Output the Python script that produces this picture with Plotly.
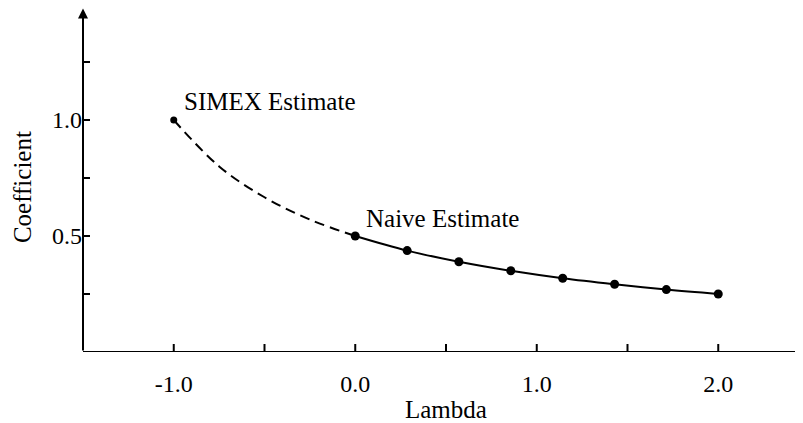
import plotly.graph_objects as go

# Data
lam_naive = [0.0, 0.286, 0.571, 0.857, 1.143, 1.429, 1.714, 2.0]
coef_naive = [0.50, 0.437, 0.389, 0.350, 0.318, 0.292, 0.269, 0.250]
lam_extrap = [-1.0, -0.75, -0.5, -0.25, 0.0]
coef_extrap = [1.0, 0.80, 0.667, 0.571, 0.50]
simex_lam = [-1.0]
simex_coef = [1.0]
x_tick_marks = [-1.0, -0.5, 0.0, 0.5, 1.0, 1.5, 2.0]
x_tick_labels = {-1.0: "-1.0", 0.0: "0.0", 1.0: "1.0", 2.0: "2.0"}
y_tick_marks = [0.25, 0.5, 0.75, 1.0, 1.25]
y_tick_labels = {0.5: "0.5", 1.0: "1.0"}

FONT = "Liberation Serif, Times New Roman, serif"
FS = 25
FS_TICK = 24
X0 = -1.5
XMAX = X0 + 720 / 181.5
YMAX = 344 / 232

fig = go.Figure()
fig.add_trace(go.Scatter(x=lam_extrap, y=coef_extrap, mode="lines",
                         line=dict(color="black", width=2, dash="10px,6px", shape="spline"),
                         hoverinfo="skip", showlegend=False))
fig.add_trace(go.Scatter(x=lam_naive, y=coef_naive, mode="lines+markers",
                         line=dict(color="black", width=2, shape="spline"),
                         marker=dict(color="black", size=9),
                         showlegend=False))
fig.add_trace(go.Scatter(x=simex_lam, y=simex_coef, mode="markers",
                         marker=dict(color="black", size=7), showlegend=False))

shapes = [dict(type="line", xref="x", yref="y", x0=X0, x1=XMAX, y0=0, y1=0,
               line=dict(color="black", width=2))]
for v in x_tick_marks:
    shapes.append(dict(type="line", xref="x", yref="y", ysizemode="pixel", yanchor=0,
                       x0=v, x1=v, y0=-8, y1=8, line=dict(color="black", width=2)))
for v in y_tick_marks:
    shapes.append(dict(type="line", xref="x", yref="y", xsizemode="pixel", xanchor=X0,
                       x0=-7, x1=7, y0=v, y1=v, line=dict(color="black", width=2)))

annotations = [
    dict(x=X0, y=1.481, ax=X0, ay=0, xref="x", yref="y", axref="x", ayref="y",
         showarrow=True, arrowhead=2, arrowsize=1, arrowwidth=2, arrowcolor="black", text=""),
    dict(x=-0.956, y=1.08, xref="x", yref="y", text="SIMEX Estimate", showarrow=False,
         xanchor="left", yanchor="middle", font=dict(family=FONT, size=FS, color="black")),
    dict(x=0.048, y=0.576, xref="x", yref="y", text="Naive Estimate", showarrow=False,
         xanchor="left", yanchor="middle", font=dict(family=FONT, size=FS, color="black")),
    dict(x=0.504, y=-0.166, xref="paper", yref="paper", text="Lambda", showarrow=False,
         xanchor="center", yanchor="middle", font=dict(family=FONT, size=FS, color="black")),
    dict(x=-0.083, y=0.48, xref="paper", yref="paper", text="Coefficient", showarrow=False,
         textangle=-90, xanchor="center", yanchor="middle",
         font=dict(family=FONT, size=FS, color="black")),
]

fig.update_layout(
    width=795, height=415,
    margin=dict(l=75, r=0, t=0, b=71),
    paper_bgcolor="white", plot_bgcolor="white",
    font=dict(family=FONT, size=FS_TICK, color="black"),
    shapes=shapes, annotations=annotations,
    xaxis=dict(range=[X0, XMAX], showgrid=False, zeroline=False, showline=False,
               tickvals=list(x_tick_labels.keys()), ticktext=list(x_tick_labels.values()),
               ticks="", ticklabelstandoff=15),
    yaxis=dict(range=[0, YMAX], showgrid=False, zeroline=False, showline=False,
               tickvals=list(y_tick_labels.keys()), ticktext=list(y_tick_labels.values()),
               ticks="", ticklabelstandoff=0),
)
fig.write_html("out.html")
